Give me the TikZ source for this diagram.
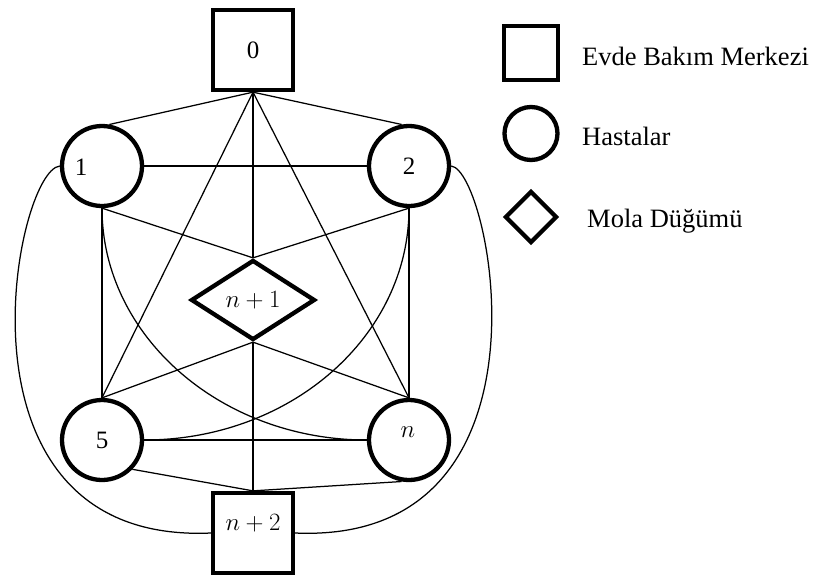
\documentclass[tikz,border=0pt]{standalone}
\usepackage{fontspec}
\setmainfont{Liberation Serif}
\usetikzlibrary{shapes.geometric}
\begin{document}
\begin{tikzpicture}[x=1pt,y=-1pt,
  depot/.style={draw,line width=4.3pt,rectangle,minimum size=80pt,inner sep=0pt,font=\fontsize{25}{30}\selectfont},
  patient/.style={draw,line width=4.3pt,circle,minimum size=80pt,inner sep=0pt,font=\fontsize{25}{30}\selectfont},
  breaknode/.style={draw,line width=4.3pt,diamond,minimum width=124pt,minimum height=80pt,inner sep=0pt,font=\fontsize{25}{29}\selectfont},
  edge/.style={line width=1.25pt},
  lbl/.style={font=\fontsize{25}{29}\selectfont,inner sep=0pt},
  legtext/.style={anchor=base west,font=\fontsize{26.5}{30}\selectfont,inner sep=0pt}
]
\useasboundingbox (0,0) rectangle (816,579);
% main nodes
\node[depot] (d0) at (253,50) {0};
\node[patient,label={[lbl,xshift=-21pt,yshift=-1pt]center:1}] (p1) at (102,166) {};
\node[patient] (p2) at (409,166) {2};
\node[patient] (p5) at (102,440) {5};
\node[patient,label={[lbl,xshift=-1pt,yshift=8pt]center:$n$}] (pn) at (409,440) {};
\node[breaknode] (brk) at (253,300) {$n+1$};
\node[depot,label={[lbl,yshift=10pt]center:$n+2$}] (dend) at (253,533) {};
% edges
\draw[edge] (d0.south) -- (p1.80);
\draw[edge] (d0.south) -- (p2.100);
\draw[edge] (d0.south) -- (brk.north);
\draw[edge] (d0.south) -- (p5.north);
\draw[edge] (d0.south) -- (pn.north);
\draw[edge] (p1.east) -- (p2.west);
\draw[edge] (p1.south) -- (brk.north);
\draw[edge] (p2.south) -- (brk.north);
\draw[edge] (p1.south) -- (p5.north);
\draw[edge] (p2.south) -- (pn.north);
\draw[edge] (p1.south) .. controls (102,336) and (221,440) .. (pn.west);
\draw[edge] (p2.south) .. controls (409,336) and (291,440) .. (p5.east);
\draw[edge] (brk.south) -- (p5.north);
\draw[edge] (brk.south) -- (pn.north);
\draw[edge] (brk.south) -- (dend.north);
\draw[edge] (p5.east) -- (pn.west);
\draw[edge] (p5.-44) -- (dend.north);
\draw[edge] (pn.-100) -- (dend.north);
\draw[edge] (p1.west) .. controls (15,170) and (-60,545) .. (dend.west);
\draw[edge] (p2.east) .. controls (491,170) and (566,545) .. (dend.east);
% legend
\node[depot,minimum size=54pt] (lg1) at (531,53) {};
\node[patient,minimum size=53pt] (lg2) at (531,133.5) {};
\node[breaknode,minimum width=52pt,minimum height=52pt] (lg3) at (531,217) {};
\node[legtext] (lt1) at (582,65) {Evde Bakım Merkezi};
\node[legtext] (lt2) at (582,145) {Hastalar};
\node[legtext] (lt3) at (587,227) {Mola Düğümü};
\end{tikzpicture}
\end{document}
